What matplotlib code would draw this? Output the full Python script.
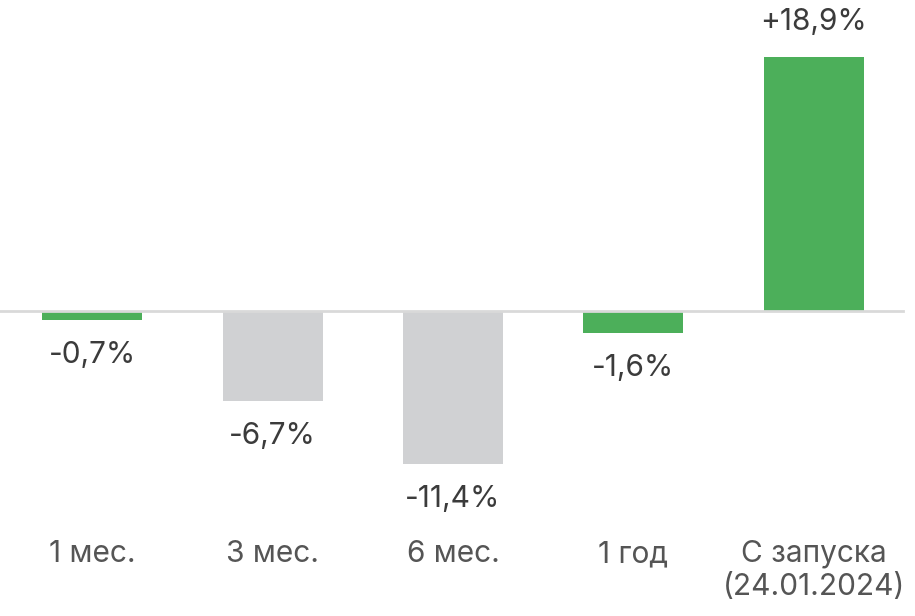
import matplotlib
matplotlib.use("Agg")
import matplotlib.pyplot as plt
import matplotlib.transforms as mtransforms

categories = ["1 мес.", "3 мес.", "6 мес.", "1 год", "С запуска\n(24.01.2024)"]
values = [-0.7, -6.7, -11.4, -1.6, 18.9]
value_labels = ["-0,7%", "-6,7%", "-11,4%", "-1,6%", "+18,9%"]
colors = ["#4caf5a", "#d0d1d3", "#d0d1d3", "#4caf5a", "#4caf5a"]

plt.rcParams['font.family'] = ['Inter', 'DejaVu Sans']
W, H = 915, 616
fig = plt.figure(figsize=(W / 100, H / 100), dpi=100)
ax = fig.add_axes([0, 0, 1, 1])
ax.set_axis_off()

x = list(range(len(categories)))
ax.bar(x, values, width=0.554, color=colors, zorder=2)
ax.set_xlim(-0.51, 4.56)
ax.set_ylim(-22.69, 23.14)
ax.axhline(0, xmin=0, xmax=903 / W, color="#d9d9d9", lw=2, zorder=3)

for xi, v, lab in zip(x, values, value_labels):
    off = 35 if v > 0 else -35
    ax.annotate(lab, (xi, v), xytext=(0, off), textcoords="offset pixels",
                ha="center", va="center", fontsize=21.5, color="#3b3b3b")

trans = mtransforms.blended_transform_factory(ax.transData, fig.transFigure)
for xi, cat in zip(x, categories):
    lines = cat.split("\n")
    for k, line in enumerate(lines):
        y_px = 562 + 33 * k
        ax.text(xi, 1 - y_px / H, line, transform=trans, ha="center",
                va="baseline", fontsize=21.5, color="#555555")

fig.savefig("out.png", dpi=100)
